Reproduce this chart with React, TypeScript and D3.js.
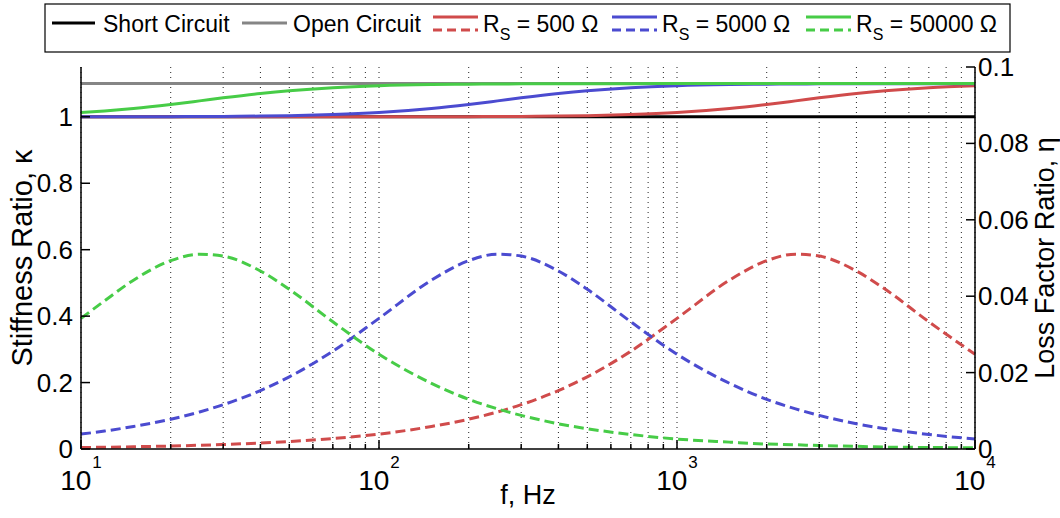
import React from "react";
import * as d3 from "d3";

// frequencies (Hz) the curves were read at
const freqs = [10, 12, 15, 20, 25, 30, 40, 50, 70, 100, 150, 200, 250, 300, 400, 500, 700, 1000, 1500, 2000, 2500, 3000, 4000, 5000, 7000, 10000];

// stiffness ratio (left axis)
const shortCircuit = 1.0;
const openCircuit = 1.1;
const kappa500 = [1.0, 1.0, 1.0, 1.0, 1.0, 1.0, 1.0, 1.0, 1.0, 1.0002, 1.0003, 1.0006, 1.0009, 1.0013, 1.0023, 1.0036, 1.0068, 1.0129, 1.025, 1.0372, 1.048, 1.0571, 1.0703, 1.0787, 1.0879, 1.0937];
const kappa5000 = [1.0002, 1.0002, 1.0003, 1.0006, 1.0009, 1.0013, 1.0023, 1.0036, 1.0068, 1.0129, 1.025, 1.0372, 1.048, 1.0571, 1.0703, 1.0787, 1.0879, 1.0937, 1.0971, 1.0983, 1.0989, 1.0993, 1.0996, 1.0997, 1.0999, 1.0999];
const kappa50000 = [1.0129, 1.0176, 1.025, 1.0372, 1.048, 1.0571, 1.0703, 1.0787, 1.0879, 1.0937, 1.0971, 1.0983, 1.0989, 1.0993, 1.0996, 1.0997, 1.0999, 1.1, 1.1, 1.1, 1.1, 1.1, 1.1, 1.1, 1.1, 1.1];

// loss factor ratio (right axis)
const eta500 = [0.0004, 0.00046, 0.00059, 0.00078, 0.00098, 0.00118, 0.00157, 0.00196, 0.00275, 0.0039, 0.0059, 0.0078, 0.0097, 0.0116, 0.0153, 0.0189, 0.0256, 0.0342, 0.0442, 0.0493, 0.051, 0.0505, 0.0466, 0.0418, 0.0333, 0.0248];
const eta5000 = [0.0039, 0.0047, 0.0059, 0.0078, 0.0097, 0.0116, 0.0153, 0.0189, 0.0256, 0.0342, 0.0442, 0.0493, 0.051, 0.0505, 0.0466, 0.0418, 0.0333, 0.0248, 0.0172, 0.013, 0.0105, 0.0088, 0.0066, 0.0053, 0.0038, 0.0026];
const eta50000 = [0.0342, 0.0388, 0.0442, 0.0493, 0.051, 0.0505, 0.0466, 0.0418, 0.0333, 0.0248, 0.0172, 0.013, 0.0105, 0.0088, 0.0066, 0.0053, 0.0038, 0.0026, 0.0018, 0.0013, 0.0011, 0.0009, 0.0007, 0.0005, 0.0004, 0.0003];

const leftTicks = [0, 0.2, 0.4, 0.6, 0.8, 1];
const leftTickLabels = ["0", "0.2", "0.4", "0.6", "0.8", "1"];
const rightTicks = [0, 0.02, 0.04, 0.06, 0.08, 0.1];
const rightTickLabels = ["0", "0.02", "0.04", "0.06", "0.08", "0.1"];
const decades = [10, 100, 1000, 10000];
const decadeExponents = ["1", "2", "3", "4"];

const RED = "#d04b4b";
const BLUE = "#4b4bd0";
const GREEN = "#47cc47";
const GRAY = "#858585";

const FONT = "'Liberation Sans', Arial, Helvetica, sans-serif";

export default function App() {
  const W = 1060;
  const H = 518;
  const left = 81;
  const right = 975;
  const top = 67;
  const bottom = 449;

  const x = d3.scaleLog().domain([10, 10000]).range([left, right]);
  const yL = d3.scaleLinear().domain([0, 1.15]).range([bottom, top]);
  const yR = d3.scaleLinear().domain([0, 0.1]).range([bottom, top]);

  const lineL = d3
    .line<number>()
    .x((_, i) => x(freqs[i]))
    .y((d) => yL(d))
    .curve(d3.curveMonotoneX);
  const lineR = d3
    .line<number>()
    .x((_, i) => x(freqs[i]))
    .y((d) => yR(d))
    .curve(d3.curveMonotoneX);

  // grid at 1..9 x decade
  const gridVals: number[] = [];
  [10, 100, 1000].forEach((dec) => {
    for (let m = 1; m <= 9; m++) gridVals.push(dec * m);
  });
  gridVals.push(10000);

  const solid = [
    { data: kappa500, color: RED },
    { data: kappa5000, color: BLUE },
    { data: kappa50000, color: GREEN },
  ];
  const dashed = [
    { data: eta500, color: RED },
    { data: eta5000, color: BLUE },
    { data: eta50000, color: GREEN },
  ];

  const legendY = 23;
  const rsItems = [
    { color: RED, x0: 433, label: "500" },
    { color: BLUE, x0: 612, label: "5000" },
    { color: GREEN, x0: 806, label: "50000" },
  ];

  return (
    <svg
      width={W}
      height={H}
      style={{ position: "absolute", left: 0, top: 0, background: "#fff" }}
      fontFamily={FONT}
    >
      <rect x={0} y={0} width={W} height={H} fill="#fff" />

      {/* grid */}
      <g>
        {gridVals.map((v, i) => (
          <line
            key={i}
            x1={x(v)}
            x2={x(v)}
            y1={top}
            y2={bottom}
            stroke="#222"
            strokeWidth={1}
            strokeDasharray="1,4"
          />
        ))}
      </g>

      {/* stiffness curves */}
      <line x1={left} x2={right} y1={yL(shortCircuit)} y2={yL(shortCircuit)} stroke="#000" strokeWidth={3} />
      <line x1={left} x2={right} y1={yL(openCircuit)} y2={yL(openCircuit)} stroke={GRAY} strokeWidth={3} />
      {solid.map((s, i) => (
        <path key={i} d={lineL(s.data) || ""} fill="none" stroke={s.color} strokeWidth={3} />
      ))}

      {/* loss factor curves */}
      {dashed.map((s, i) => (
        <path
          key={i}
          d={lineR(s.data) || ""}
          fill="none"
          stroke={s.color}
          strokeWidth={3}
          strokeDasharray="10,5"
        />
      ))}

      {/* axes */}
      <line x1={left} x2={left} y1={top} y2={bottom} stroke="#000" strokeWidth={1.5} />
      <line x1={right} x2={right} y1={top} y2={bottom} stroke="#000" strokeWidth={1.5} />
      <line x1={left} x2={right} y1={bottom} y2={bottom} stroke="#000" strokeWidth={1.5} />

      {leftTicks.map((t, i) => (
        <g key={i}>
          <line x1={left} x2={left + 9} y1={yL(t)} y2={yL(t)} stroke="#000" strokeWidth={1.5} />
          <text x={73} y={yL(t) + 9} textAnchor="end" fontSize={26}>
            {leftTickLabels[i]}
          </text>
        </g>
      ))}
      {rightTicks.map((t, i) => (
        <g key={i}>
          <line x1={right - 9} x2={right} y1={yR(t)} y2={yR(t)} stroke="#000" strokeWidth={1.5} />
          <text x={978} y={yR(t) + 9} textAnchor="start" fontSize={26}>
            {rightTickLabels[i]}
          </text>
        </g>
      ))}
      {gridVals.map((v, i) => {
        const major = decades.indexOf(v) >= 0;
        return (
          <line
            key={i}
            x1={x(v)}
            x2={x(v)}
            y1={bottom}
            y2={bottom - (major ? 9 : 5)}
            stroke="#000"
            strokeWidth={1.5}
          />
        );
      })}
      {decades.map((d, i) => (
        <text key={i} x={x(d)} y={490} textAnchor="middle" fontSize={28}>
          10
          <tspan dx={1} dy={-22} fontSize={17}>
            {decadeExponents[i]}
          </tspan>
        </text>
      ))}

      <text x={(left + right) / 2} y={504} textAnchor="middle" fontSize={27}>
        f, Hz
      </text>
      <text transform={`translate(32, ${(top + bottom) / 2}) rotate(-90)`} textAnchor="middle" fontSize={29}>
        Stiffness Ratio, κ
      </text>
      <text transform={`translate(1054, ${(top + bottom) / 2}) rotate(-90)`} textAnchor="middle" fontSize={27}>
        Loss Factor Ratio, η
      </text>

      {/* legend */}
      <rect x={45} y={4} width={965} height={48} fill="#fff" stroke="#000" strokeWidth={1.2} />
      <line x1={52} x2={95} y1={legendY} y2={legendY} stroke="#000" strokeWidth={3} />
      <text x={103} y={legendY + 9} fontSize={23}>
        Short Circuit
      </text>
      <line x1={242} x2={287} y1={legendY} y2={legendY} stroke={GRAY} strokeWidth={3} />
      <text x={293} y={legendY + 9} fontSize={23}>
        Open Circuit
      </text>
      {rsItems.map((it, i) => (
        <g key={i}>
          <line x1={it.x0} x2={it.x0 + 45} y1={legendY - 6} y2={legendY - 6} stroke={it.color} strokeWidth={3} />
          <line
            x1={it.x0}
            x2={it.x0 + 45}
            y1={legendY + 7}
            y2={legendY + 7}
            stroke={it.color}
            strokeWidth={3}
            strokeDasharray="9,5"
          />
          <text x={it.x0 + 50} y={legendY + 9} fontSize={23}>
            R
            <tspan dy={8} fontSize={16}>
              S
            </tspan>
            <tspan dy={-8}>{` = ${it.label} Ω`}</tspan>
          </text>
        </g>
      ))}
    </svg>
  );
}
